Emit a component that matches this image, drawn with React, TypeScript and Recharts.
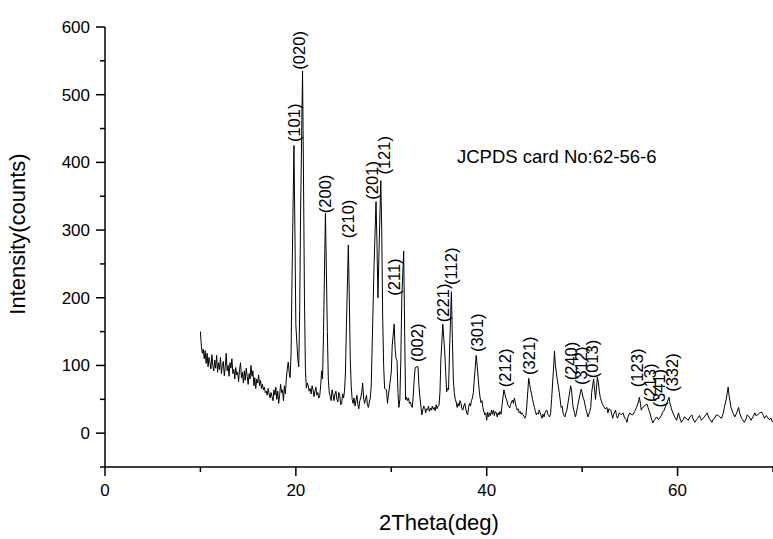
import React from "react"
import { ComposedChart, Line, XAxis, YAxis, ReferenceDot } from "recharts"

// XRD scan: [2theta (deg), intensity (counts)]
const scan: [number, number][] = [
  [10.0, 150], [10.1, 128], [10.2, 118], [10.3, 124], [10.4, 110], [10.5, 122], [10.6, 103], [10.7, 118], [10.8, 98], [10.9, 112],
  [11.0, 104], [11.1, 95], [11.2, 116], [11.3, 100], [11.4, 92], [11.5, 108], [11.6, 96], [11.7, 115], [11.8, 90], [11.9, 104],
  [12.0, 94], [12.1, 112], [12.2, 88], [12.3, 100], [12.4, 106], [12.5, 85], [12.6, 98], [12.7, 118], [12.8, 92], [12.9, 100],
  [13.0, 84], [13.1, 104], [13.2, 96], [13.3, 110], [13.4, 88], [13.5, 94], [13.6, 80], [13.7, 97], [13.8, 86], [13.9, 90],
  [14.0, 76], [14.1, 94], [14.2, 104], [14.3, 82], [14.4, 90], [14.5, 74], [14.6, 92], [14.7, 78], [14.8, 96], [14.9, 84],
  [15.0, 72], [15.1, 88], [15.2, 80], [15.3, 100], [15.4, 84], [15.5, 92], [15.6, 70], [15.7, 82], [15.8, 66], [15.9, 80],
  [16.0, 74], [16.1, 86], [16.2, 70], [16.3, 78], [16.4, 66], [16.5, 72], [16.6, 64], [16.7, 68], [16.8, 60], [16.9, 62],
  [17.0, 56], [17.1, 66], [17.2, 58], [17.3, 52], [17.4, 60], [17.5, 54], [17.6, 48], [17.7, 64], [17.8, 56], [17.9, 68],
  [18.0, 50], [18.1, 62], [18.2, 44], [18.3, 56], [18.4, 72], [18.5, 60], [18.6, 64], [18.7, 48], [18.8, 70], [18.9, 58],
  [19.0, 80], [19.1, 95], [19.2, 105], [19.3, 90], [19.4, 82], [19.5, 120], [19.6, 230], [19.8, 425], [19.9, 300], [20.0, 160],
  [20.2, 110], [20.3, 98], [20.4, 180], [20.5, 330], [20.7, 535], [20.8, 380], [20.9, 200], [21.0, 95], [21.1, 67], [21.2, 74],
  [21.3, 70], [21.4, 62], [21.5, 66], [21.6, 58], [21.7, 70], [21.8, 64], [21.9, 54], [22.0, 62], [22.1, 68], [22.2, 56],
  [22.3, 60], [22.4, 52], [22.5, 55], [22.6, 70], [22.7, 92], [22.8, 80], [22.9, 150], [23.1, 325], [23.3, 150], [23.4, 80],
  [23.5, 60], [23.6, 54], [23.7, 48], [23.8, 64], [23.9, 56], [24.0, 48], [24.1, 58], [24.2, 62], [24.3, 50], [24.4, 46],
  [24.5, 60], [24.6, 56], [24.7, 42], [24.8, 44], [24.9, 58], [25.0, 52], [25.1, 62], [25.2, 90], [25.3, 160], [25.5, 278],
  [25.6, 200], [25.7, 110], [25.8, 70], [25.9, 50], [26.0, 44], [26.1, 52], [26.2, 40], [26.3, 48], [26.4, 56], [26.5, 42],
  [26.6, 36], [26.7, 48], [26.8, 52], [26.9, 60], [27.0, 74], [27.1, 52], [27.2, 44], [27.3, 50], [27.4, 56], [27.5, 42],
  [27.6, 38], [27.7, 46], [27.8, 52], [27.9, 70], [28.0, 130], [28.2, 250], [28.4, 342], [28.5, 280], [28.6, 200], [28.7, 260],
  [28.9, 373], [29.0, 300], [29.1, 170], [29.2, 100], [29.3, 66], [29.5, 64], [29.6, 44], [29.7, 56], [29.8, 67], [30.0, 90],
  [30.1, 130], [30.3, 161], [30.4, 125], [30.5, 110], [30.6, 108], [30.7, 60], [30.8, 38], [30.9, 50], [31.0, 110], [31.1, 200],
  [31.3, 269], [31.4, 150], [31.5, 49], [31.6, 53], [31.7, 48], [31.8, 52], [31.9, 44], [32.0, 46], [32.1, 40], [32.2, 38],
  [32.3, 55], [32.4, 80], [32.5, 96], [32.6, 98], [32.8, 98], [32.9, 70], [33.0, 53], [33.1, 40], [33.2, 27], [33.3, 34],
  [33.4, 40], [33.5, 38], [33.6, 30], [33.7, 36], [33.8, 34], [33.9, 40], [34.0, 32], [34.1, 37], [34.2, 34], [34.3, 40],
  [34.4, 35], [34.5, 38], [34.6, 33], [34.7, 42], [34.8, 36], [34.9, 40], [35.0, 41], [35.1, 60], [35.2, 110], [35.4, 161],
  [35.5, 140], [35.6, 120], [35.7, 90], [35.8, 61], [35.9, 66], [36.0, 64], [36.1, 120], [36.3, 209], [36.4, 140], [36.5, 80],
  [36.6, 60], [36.7, 50], [36.8, 46], [36.9, 38], [37.0, 44], [37.1, 40], [37.2, 48], [37.3, 44], [37.4, 36], [37.5, 34],
  [37.6, 40], [37.7, 44], [37.8, 36], [37.9, 30], [38.0, 27], [38.1, 38], [38.2, 44], [38.3, 40], [38.4, 48], [38.5, 52],
  [38.6, 60], [38.7, 80], [38.9, 115], [39.0, 100], [39.1, 83], [39.2, 65], [39.3, 53], [39.4, 45], [39.5, 48], [39.6, 38],
  [39.7, 32], [39.8, 27], [39.9, 30], [40.0, 19], [40.1, 31], [40.2, 24], [40.3, 30], [40.4, 26], [40.5, 34], [40.6, 28],
  [40.7, 34], [40.8, 26], [40.9, 32], [41.0, 30], [41.1, 24], [41.2, 30], [41.3, 27], [41.4, 32], [41.5, 28], [41.6, 40],
  [41.8, 64], [41.9, 58], [42.0, 52], [42.1, 49], [42.2, 42], [42.3, 40], [42.4, 37], [42.5, 42], [42.6, 46], [42.7, 49],
  [42.8, 44], [42.9, 52], [43.0, 45], [43.1, 38], [43.2, 34], [43.3, 36], [43.4, 30], [43.5, 32], [43.6, 28], [43.7, 30],
  [43.8, 27], [43.9, 25], [44.0, 22], [44.1, 26], [44.2, 40], [44.4, 81], [44.5, 72], [44.6, 64], [44.7, 58], [44.8, 50],
  [44.9, 44], [45.0, 38], [45.1, 32], [45.2, 27], [45.3, 30], [45.4, 28], [45.5, 34], [45.6, 30], [45.7, 26], [45.8, 22],
  [45.9, 28], [46.0, 24], [46.1, 30], [46.3, 34], [46.4, 28], [46.5, 26], [46.6, 24], [46.7, 30], [46.8, 50], [47.0, 95],
  [47.1, 121], [47.2, 100], [47.4, 78], [47.5, 70], [47.6, 60], [47.8, 38], [47.9, 40], [48.0, 30], [48.1, 26], [48.2, 24],
  [48.3, 30], [48.4, 34], [48.6, 52], [48.8, 70], [48.9, 62], [49.0, 44], [49.1, 35], [49.2, 30], [49.3, 24], [49.4, 30],
  [49.5, 38], [49.7, 52], [49.9, 65], [50.0, 60], [50.1, 52], [50.2, 49], [50.4, 35], [50.5, 30], [50.6, 24], [50.8, 32],
  [50.9, 38], [51.0, 60], [51.2, 80], [51.3, 65], [51.4, 50], [51.6, 83], [51.7, 75], [51.8, 62], [51.9, 53], [52.0, 48],
  [52.1, 44], [52.2, 41], [52.4, 36], [52.6, 38], [52.7, 30], [52.8, 36], [53.0, 34], [53.1, 28], [53.2, 22], [53.3, 28],
  [53.5, 34], [53.6, 26], [53.7, 22], [53.9, 30], [54.1, 27], [54.3, 30], [54.4, 24], [54.6, 20], [54.7, 16], [54.8, 24],
  [55.0, 30], [55.1, 28], [55.3, 27], [55.5, 32], [55.7, 38], [55.9, 46], [56.0, 53], [56.1, 44], [56.2, 34], [56.3, 37],
  [56.5, 40], [56.8, 43], [56.9, 38], [57.1, 30], [57.2, 24], [57.4, 15], [57.6, 20], [57.8, 24], [58.0, 20], [58.1, 22],
  [58.3, 26], [58.4, 30], [58.6, 34], [58.7, 38], [58.9, 45], [59.1, 53], [59.2, 44], [59.4, 34], [59.6, 27], [59.7, 24],
  [59.9, 19], [60.1, 30], [60.2, 24], [60.4, 16], [60.6, 20], [60.7, 24], [60.9, 22], [61.1, 19], [61.3, 24], [61.5, 27],
  [61.6, 22], [61.8, 16], [62.0, 20], [62.1, 22], [62.3, 26], [62.5, 19], [62.7, 22], [62.8, 24], [63.0, 28], [63.1, 30],
  [63.3, 22], [63.6, 16], [63.7, 20], [63.9, 22], [64.0, 26], [64.2, 27], [64.4, 24], [64.6, 22], [64.8, 30], [64.9, 38],
  [65.1, 50], [65.3, 68], [65.4, 55], [65.6, 38], [65.8, 30], [66.0, 24], [66.2, 30], [66.4, 38], [66.5, 30], [66.7, 22],
  [66.9, 18], [67.0, 16], [67.2, 22], [67.3, 27], [67.5, 24], [67.7, 19], [67.9, 24], [68.1, 30], [68.2, 26], [68.4, 27],
  [68.6, 30], [68.8, 31], [69.0, 26], [69.1, 22], [69.3, 26], [69.4, 24], [69.6, 20], [69.8, 22], [69.95, 16],
]

// Miller index labels, anchored at the bottom of the rotated text
const labelTexts = ["(101)", "(020)", "(200)", "(210)", "(201)", "(121)", "(211)", "(002)", "(221)", "(112)",
  "(301)", "(212)", "(321)", "(240)", "(312)", "(013)", "(123)", "(213)", "(341)", "(332)"]
const labelAngles = [19.8, 20.3, 23.1, 25.5, 28.0, 29.2, 30.3, 32.7, 35.4, 36.3,
  39.0, 41.9, 44.4, 48.8, 49.9, 51.0, 55.8, 57.1, 58.1, 59.4]
const labelCounts = [430, 537, 325, 288, 345, 382, 203, 105, 164, 219,
  120, 68, 86, 78, 71, 81, 68, 46, 38, 61]

const xTicks = [0, 10, 20, 30, 40, 50, 60, 70]
const yTicks = [-50, 0, 50, 100, 150, 200, 250, 300, 350, 400, 450, 500, 550, 600]

const font = "'Liberation Sans', Arial, sans-serif"

const data = scan.map(([x, y]) => ({ x, y }))

const XTick = (props: any) => {
  const { x, y, payload } = props
  const major = payload.value % 20 === 0
  return (
    <g>
      <line x1={x} y1={y} x2={x} y2={y + (major ? 9 : 5)} stroke="#000" strokeWidth={1.5} />
      {major && (
        <text x={x} y={y + 29} textAnchor="middle" fontSize={17} fontFamily={font} fill="#000">
          {payload.value}
        </text>
      )}
    </g>
  )
}

const YTick = (props: any) => {
  const { x, y, payload } = props
  const major = payload.value % 100 === 0 && payload.value >= 0
  return (
    <g>
      <line x1={x} y1={y} x2={x - (major ? 9 : 5)} y2={y} stroke="#000" strokeWidth={1.5} />
      {major && (
        <text x={x - 15} y={y + 6} textAnchor="end" fontSize={17} fontFamily={font} fill="#000">
          {payload.value}
        </text>
      )}
    </g>
  )
}

export default function App() {
  return (
    <div style={{ width: 773, height: 539, position: "relative", background: "#fff" }}>
      <style>{`body{margin:0}`}</style>
      <ComposedChart width={773} height={539} data={data} margin={{ top: 27, right: 0, bottom: 0, left: 0 }}>
        <XAxis
          type="number"
          dataKey="x"
          domain={[0, 70]}
          ticks={xTicks}
          tickSize={0}
          tickMargin={0}
          tickLine={false}
          axisLine={{ stroke: "#000", strokeWidth: 1.5 }}
          tick={<XTick />}
          interval={0}
          height={72}
        />
        <YAxis
          type="number"
          domain={[-50, 600]}
          ticks={yTicks}
          tickSize={0}
          tickMargin={0}
          tickLine={false}
          axisLine={{ stroke: "#000", strokeWidth: 1.5 }}
          tick={<YTick />}
          interval={0}
          width={105}
        />
        <Line type="linear" dataKey="y" stroke="#000" strokeWidth={1} dot={false} isAnimationActive={false} />
        {labelTexts.map((t, i) => (
          <ReferenceDot
            key={t}
            x={labelAngles[i]}
            y={labelCounts[i]}
            r={0}
            ifOverflow="visible"
            shape={(p: any) => (
              <text
                x={p.cx}
                y={p.cy}
                transform={`rotate(-90 ${p.cx} ${p.cy})`}
                textAnchor="start"
                dominantBaseline="central"
                fontSize={16.5}
                fontFamily={font}
                fill="#000"
              >
                {t}
              </text>
            )}
          />
        ))}
      </ComposedChart>
      <div
        style={{
          position: "absolute", left: 457, top: 146, fontFamily: font, fontSize: 18.5, whiteSpace: "nowrap",
          lineHeight: "22px",
        }}
      >
        JCPDS card No:62-56-6
      </div>
      <div
        style={{
          position: "absolute", left: 439, top: 523, transform: "translate(-50%, -50%)", fontFamily: font,
          fontSize: 22, whiteSpace: "nowrap",
        }}
      >
        2Theta(deg)
      </div>
      <div
        style={{
          position: "absolute", left: 18, top: 234, transform: "translate(-50%, -50%) rotate(-90deg)",
          fontFamily: font, fontSize: 22, whiteSpace: "nowrap",
        }}
      >
        Intensity(counts)
      </div>
    </div>
  )
}
